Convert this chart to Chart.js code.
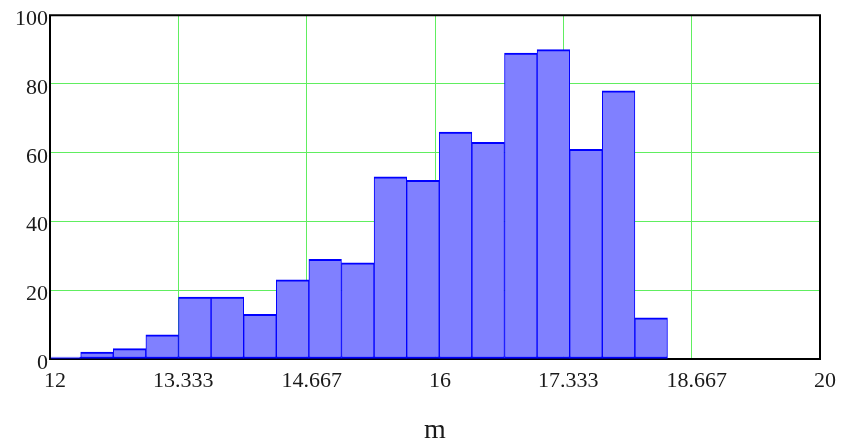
<!DOCTYPE html>
<html>
<head>
<meta charset="utf-8">
<script src="https://cdn.jsdelivr.net/npm/chart.js@4"></script>
<style>
  html, body { margin: 0; padding: 0; background: #ffffff; }
  #wrap { width: 841px; height: 448px; }
</style>
</head>
<body>
<div id="wrap"><canvas id="c" width="841" height="448"></canvas></div>
<script>
// Histogram bins (edges) and the count in each bin
const binEdges = [11.980, 12.319, 12.657, 12.996, 13.335, 13.674, 14.012, 14.351, 14.690, 15.028,
                  15.367, 15.706, 16.044, 16.383, 16.722, 17.061, 17.399, 17.738, 18.077, 18.415];
const counts = [0, 2, 3, 7, 18, 18, 13, 23, 29, 28, 53, 52, 66, 63, 89, 90, 61, 78, 12];

// Axis ticks
const xTicks = [12, 13.3333, 14.6667, 16, 17.3333, 18.6667, 20];
const xTickLabels = ['12', '13.333', '14.667', '16', '17.333', '18.667', '20'];
const yTicks = [0, 20, 40, 60, 80, 100];
const xAxisTitle = 'm';

const points = counts.map((c, i) => ({ x: (binEdges[i] + binEdges[i + 1]) / 2, y: c }));

const FONT = '"Liberation Serif", "Times New Roman", serif';
const GRID = 'rgb(96,238,96)';

// Black frame around the plot area; the bottom edge sits under the bars.
const framePlugin = {
  id: 'frame',
  beforeDatasetsDraw(chart) {
    const { ctx, chartArea: a } = chart;
    ctx.save();
    ctx.strokeStyle = '#000';
    ctx.lineWidth = 2;
    ctx.beginPath();
    ctx.moveTo(a.left, a.bottom);
    ctx.lineTo(a.right, a.bottom);
    ctx.stroke();
    ctx.restore();
  },
  afterDatasetsDraw(chart) {
    const { ctx, chartArea: a } = chart;
    ctx.save();
    ctx.strokeStyle = '#000';
    ctx.lineWidth = 2;
    ctx.beginPath();
    ctx.moveTo(a.left, a.bottom + 1);
    ctx.lineTo(a.left, a.top);
    ctx.lineTo(a.right, a.top);
    ctx.lineTo(a.right, a.bottom + 1);
    ctx.stroke();
    ctx.restore();
  }
};

new Chart(document.getElementById('c'), {
  type: 'bar',
  data: {
    datasets: [{
      data: points,
      backgroundColor: 'rgb(128,128,255)',
      borderColor: 'rgb(0,0,255)',
      borderWidth: { top: 2, left: 1, right: 1, bottom: 2 },
      borderSkipped: false,
      minBarLength: 2,
      barPercentage: 1,
      categoryPercentage: 1
    }]
  },
  options: {
    responsive: false,
    animation: false,
    devicePixelRatio: 1,
    layout: { padding: { left: 0, right: 21, top: 15, bottom: 0 } },
    plugins: { legend: { display: false }, tooltip: { enabled: false } },
    scales: {
      x: {
        type: 'linear',
        min: 12,
        max: 20,
        offset: false,
        afterBuildTicks(scale) { scale.ticks = xTicks.map(v => ({ value: v })); },
        afterFit(scale) { scale.height = 89; },
        grid: { offset: false, color: GRID, lineWidth: 1, drawTicks: false },
        border: { display: false },
        ticks: {
          autoSkip: false,
          maxRotation: 0,
          padding: 9,
          labelOffset: 5,
          color: '#1a1a1a',
          font: { family: FONT, size: 22 },
          callback: (v, i) => xTickLabels[i]
        },
        title: {
          display: true,
          text: xAxisTitle,
          color: '#1a1a1a',
          font: { family: FONT, size: 28 },
          padding: { top: 0, bottom: 1 }
        }
      },
      y: {
        type: 'linear',
        min: 0,
        max: 100,
        afterBuildTicks(scale) { scale.ticks = yTicks.map(v => ({ value: v })); },
        afterFit(scale) { scale.width = 50; },
        grid: { color: GRID, lineWidth: 1, drawTicks: false },
        border: { display: false },
        ticks: {
          padding: 2,
          labelOffset: 4,
          color: '#1a1a1a',
          font: { family: FONT, size: 22 }
        }
      }
    }
  },
  plugins: [framePlugin]
});
</script>
</body>
</html>
